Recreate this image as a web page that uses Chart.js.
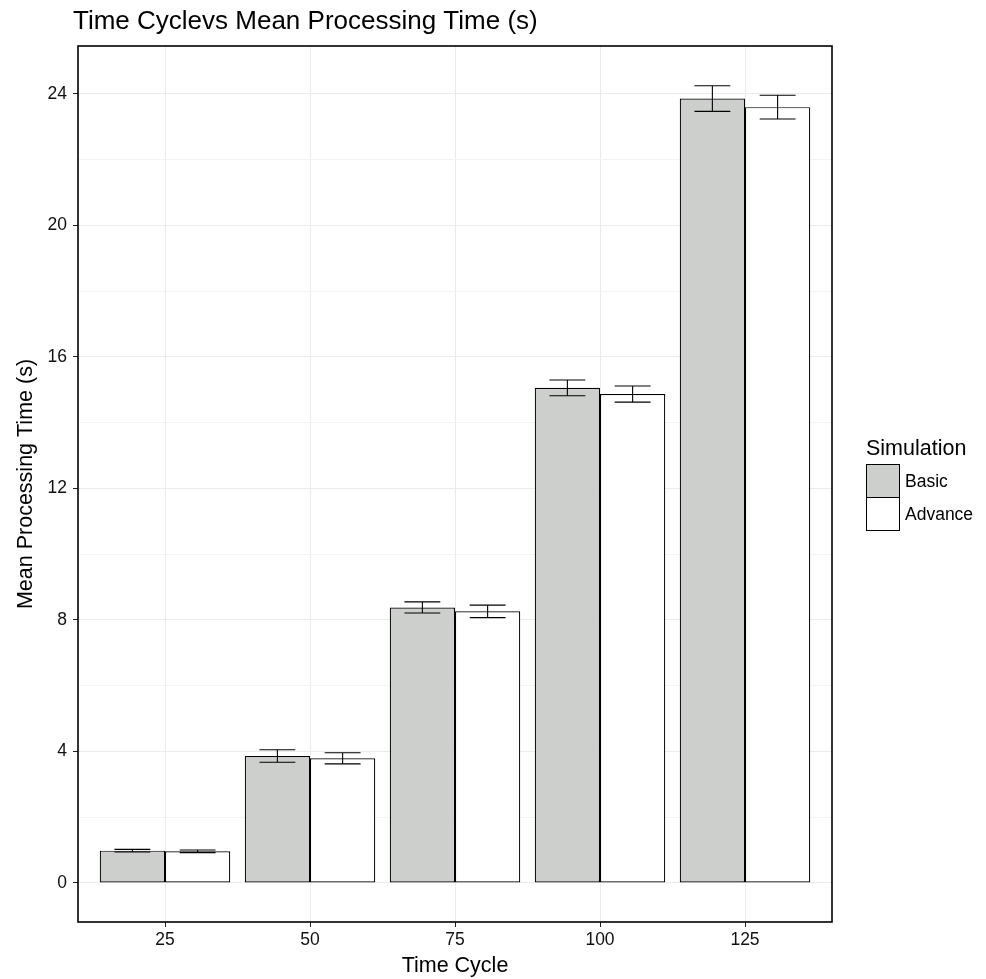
<!DOCTYPE html>
<html>
<head>
<meta charset="utf-8">
<script src="https://cdn.jsdelivr.net/npm/chart.js@4"></script>
<style>
  body { margin: 0; background: #fff; }
  canvas { display: block; }
</style>
</head>
<body>
<canvas id="chart" width="986" height="979"></canvas>
<script>
const cycles = ['25', '50', '75', '100', '125'];
const basicMean = [0.98, 3.86, 8.38, 15.06, 23.86];
const basicErr = [0.04, 0.19, 0.17, 0.24, 0.39];
const advanceMean = [0.96, 3.79, 8.26, 14.87, 23.6];
const advanceErr = [0.04, 0.17, 0.19, 0.245, 0.36];
const yTicks = [0, 2, 4, 6, 8, 10, 12, 14, 16, 18, 20, 22, 24];

const FONT = '"Liberation Sans", Arial, Helvetica, sans-serif';
const basicFill = '#cdcfcd';
const errs = [basicErr, advanceErr];
const means = [basicMean, advanceMean];

// barres d'erreur, titre, cadre et légende
const extras = {
    id: 'extras',
    afterDatasetsDraw(chart) {
        const ctx = chart.ctx;
        const y = chart.scales.y;
        ctx.save();
        ctx.strokeStyle = '#000';
        ctx.lineWidth = 1.1;
        chart.data.datasets.forEach((ds, i) => {
            const meta = chart.getDatasetMeta(i);
            meta.data.forEach((bar, j) => {
                const hi = y.getPixelForValue(means[i][j] + errs[i][j]);
                const lo = y.getPixelForValue(means[i][j] - errs[i][j]);
                const half = bar.width * 0.275;
                ctx.beginPath();
                ctx.moveTo(bar.x, hi); ctx.lineTo(bar.x, lo);
                ctx.moveTo(bar.x - half, hi); ctx.lineTo(bar.x + half, hi);
                ctx.moveTo(bar.x - half, lo); ctx.lineTo(bar.x + half, lo);
                ctx.stroke();
            });
        });

        const a = chart.chartArea;
        ctx.lineWidth = 1.6;
        ctx.strokeRect(a.left, a.top, a.right - a.left, a.bottom - a.top);

        ctx.fillStyle = '#000';
        ctx.textBaseline = 'alphabetic';
        ctx.textAlign = 'left';
        ctx.font = '26px ' + FONT;
        ctx.fillText('Time Cyclevs Mean Processing Time (s)', 73, 29);

        ctx.font = '21.5px ' + FONT;
        ctx.fillText('Simulation', 866, 454.5);
        ctx.lineWidth = 1;
        [basicFill, '#ffffff'].forEach((c, k) => {
            const top = 464 + k * 33;
            ctx.fillStyle = c;
            ctx.fillRect(866.5, top + 0.5, 33, 33);
            ctx.strokeRect(866.5, top + 0.5, 33, 33);
        });
        ctx.fillStyle = '#000';
        ctx.font = '17.5px ' + FONT;
        ctx.fillText('Basic', 905, 487);
        ctx.fillText('Advance', 905, 520);
        ctx.restore();
    }
};

const ctx = document.getElementById('chart').getContext('2d');
new Chart(ctx, {
    type: 'bar',
    data: {
        datasets: [{
            label: 'Basic',
            data: basicMean.map((v, i) => ({ x: i + 1, y: v })),
            backgroundColor: basicFill,
            borderColor: '#000',
            borderWidth: 1.2,
            borderSkipped: false
        }, {
            label: 'Advance',
            data: advanceMean.map((v, i) => ({ x: i + 1, y: v })),
            backgroundColor: '#ffffff',
            borderColor: '#000',
            borderWidth: 1.2,
            borderSkipped: false
        }]
    },
    options: {
        responsive: false,
        animation: false,
        events: [],
        categoryPercentage: 0.9,
        barPercentage: 1,
        layout: { padding: { left: 0, top: 46, right: 154, bottom: 0 } },
        scales: {
            x: {
                type: 'linear',
                min: 0.4,
                max: 5.6,
                offset: false,
                afterBuildTicks: (s) => { s.ticks = cycles.map((c, i) => ({ value: i + 1 })); },
                afterFit: (s) => { s.height = 57; },
                border: { display: false },
                grid: { offset: false, color: '#ebebeb', lineWidth: 1, tickLength: 5, tickColor: '#222' },
                ticks: {
                    padding: 3,
                    color: '#111',
                    font: { family: FONT, size: 17.5 },
                    maxRotation: 0,
                    callback: (v) => cycles[v - 1]
                },
                title: {
                    display: true,
                    text: 'Time Cycle',
                    color: '#000',
                    padding: { top: 0, bottom: 0 },
                    font: { family: FONT, size: 21.5, lineHeight: 1.2 }
                }
            },
            y: {
                min: -1.19,
                max: 25.46,
                afterBuildTicks: (s) => { s.ticks = yTicks.map(v => ({ value: v })); },
                afterFit: (s) => { s.width = 78; },
                border: { display: false },
                grid: {
                    color: (c) => c.tick && c.tick.value % 4 === 0 ? '#ebebeb' : '#f3f3f3',
                    lineWidth: 1,
                    tickLength: 5,
                    tickColor: (c) => c.tick && c.tick.value % 4 === 0 ? '#222' : 'rgba(0,0,0,0)'
                },
                ticks: {
                    padding: 6,
                    color: '#111',
                    font: { family: FONT, size: 17.5 },
                    callback: (v) => v % 4 === 0 ? String(v) : ''
                },
                title: {
                    display: true,
                    text: 'Mean Processing Time (s)',
                    color: '#000',
                    padding: { top: 13, bottom: 0 },
                    font: { family: FONT, size: 21.5, lineHeight: 1.2 }
                }
            }
        },
        plugins: {
            legend: { display: false },
            tooltip: { enabled: false }
        }
    },
    plugins: [extras]
});
</script>
</body>
</html>
